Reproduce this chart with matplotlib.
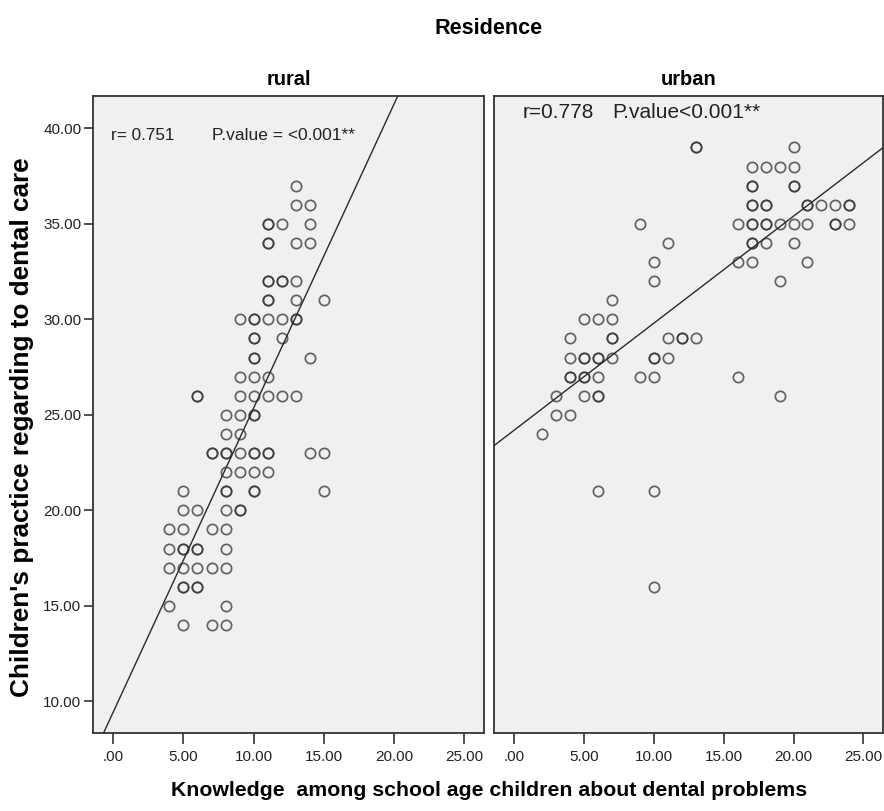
import matplotlib
matplotlib.use("Agg")
import matplotlib.pyplot as plt
import numpy as np

plt.rcParams['font.family'] = ['Liberation Sans', 'DejaVu Sans']

# ---------------- data ----------------
panel_titles = ["rural", "urban"]
super_title = "Residence"
x_label = "Knowledge  among school age children about dental problems"
y_label = "Children's practice regarding to dental care"

xtick_values = [0, 5, 10, 15, 20, 25]
xtick_labels = [".00", "5.00", "10.00", "15.00", "20.00", "25.00"]
ytick_values = [10, 15, 20, 25, 30, 35, 40]
ytick_labels = ["10.00", "15.00", "20.00", "25.00", "30.00", "35.00", "40.00"]

rural_x = [13, 13, 14, 11, 11, 12, 14, 11, 11, 13, 14,
           11, 11, 12, 12, 13, 11, 11, 13, 15,
           9, 10, 10, 11, 12, 13, 13, 10, 10, 12,
           10, 10, 14, 9, 10, 11,
           6, 6, 9, 10, 11, 12, 13,
           8, 9, 10, 10, 8, 9,
           7, 7, 8, 8, 9, 10, 10, 11, 11, 14, 15,
           8, 9, 10, 11, 5, 8, 8, 10, 10, 15,
           5, 6, 8, 9, 9, 4, 5, 7, 8,
           4, 5, 5, 6, 6, 8, 4, 5, 6, 7, 8,
           5, 5, 6, 6, 4, 8, 5, 7, 8]
rural_y = [37, 36, 36, 35, 35, 35, 35, 34, 34, 34, 34,
           32, 32, 32, 32, 32, 31, 31, 31, 31,
           30, 30, 30, 30, 30, 30, 30, 29, 29, 29,
           28, 28, 28, 27, 27, 27,
           26, 26, 26, 26, 26, 26, 26,
           25, 25, 25, 25, 24, 24,
           23, 23, 23, 23, 23, 23, 23, 23, 23, 23, 23,
           22, 22, 22, 22, 21, 21, 21, 21, 21, 21,
           20, 20, 20, 20, 20, 19, 19, 19, 19,
           18, 18, 18, 18, 18, 18, 17, 17, 17, 17, 17,
           16, 16, 16, 16, 15, 15, 14, 14, 14]

urban_x = [13, 13, 20,
           17, 18, 19, 20,
           17, 17, 20, 20,
           17, 17, 18, 18, 21, 21, 22, 23, 24, 24,
           9, 16, 17, 17, 18, 18, 19, 20, 21, 23, 23, 24,
           11, 17, 17, 18, 20,
           10, 16, 17, 21,
           10, 19,
           7,
           5, 6, 7,
           4, 7, 7, 11, 12, 12, 13,
           4, 5, 5, 6, 6, 7, 10, 10, 11,
           4, 4, 5, 5, 6, 9, 10, 16,
           3, 5, 6, 6, 19,
           3, 4,
           2,
           6, 10,
           10]
urban_y = [39, 39, 39,
           38, 38, 38, 38,
           37, 37, 37, 37,
           36, 36, 36, 36, 36, 36, 36, 36, 36, 36,
           35, 35, 35, 35, 35, 35, 35, 35, 35, 35, 35, 35,
           34, 34, 34, 34, 34,
           33, 33, 33, 33,
           32, 32,
           31,
           30, 30, 30,
           29, 29, 29, 29, 29, 29, 29,
           28, 28, 28, 28, 28, 28, 28, 28, 28,
           27, 27, 27, 27, 27, 27, 27, 27,
           26, 26, 26, 26, 26,
           25, 25,
           24,
           21, 21,
           16]

# fit lines (intercept, slope)
rural_fit = (9.45, 1.59)
urban_fit = (24.2, 0.56)

annot_rural_r, annot_rural_p = "r= 0.751", "P.value = <0.001**"
annot_urban_r, annot_urban_p = "r=0.778", "P.value<0.001**"

# ---------------- plot ----------------
W, H = 884, 811
fig = plt.figure(figsize=(W / 100, H / 100), dpi=100)
fig.patch.set_facecolor("white")

def frac_box(x0, x1, ytop, ybot):
    return [x0 / W, 1 - ybot / H, (x1 - x0) / W, (ybot - ytop) / H]

ax_l = fig.add_axes(frac_box(93.3, 484.0, 95.7, 733.0))
ax_r = fig.add_axes(frac_box(494.3, 883.3, 95.7, 733.0))

xlim = (-1.43, 26.43)
ylim = (8.34, 41.71)

panels = [(ax_l, rural_x, rural_y, rural_fit, panel_titles[0]),
          (ax_r, urban_x, urban_y, urban_fit, panel_titles[1])]

for ax, xs, ys, fit, title in panels:
    ax.set_facecolor("#F0F0F0")
    ax.set_xlim(*xlim)
    ax.set_ylim(*ylim)
    ax.plot(xs, ys, linestyle="none", marker="o", markersize=7.4,
            markerfacecolor="none", markeredgecolor="#333333",
            markeredgewidth=1.25, alpha=0.75, zorder=3)
    lx = np.array(xlim)
    ax.plot(lx, fit[0] + fit[1] * lx, color="#2a2a2a", linewidth=1.0, zorder=4)
    for s in ax.spines.values():
        s.set_color("#333333")
        s.set_linewidth(1.3)
    ax.set_xticks(xtick_values)
    ax.set_xticklabels(xtick_labels, fontsize=11, color="#222222")
    ax.tick_params(axis="x", length=8, width=1.2, color="#333333", pad=4.5)
    ax.set_title(title, fontsize=14.4, fontweight="bold", pad=8)

ax_l.set_yticks(ytick_values)
ax_l.set_yticklabels(ytick_labels, fontsize=11, color="#222222")
ax_l.tick_params(axis="y", length=6.5, width=1.2, color="#333333", pad=2)
ax_r.set_yticks([])

def px_text(x, y, s, size, **kw):
    fig.text(x / W, 1 - y / H, s, fontsize=size, **kw)

px_text(110.7, 135, annot_rural_r, 12.3, color="#222222", va="center", ha="left")
px_text(211.7, 135, annot_rural_p, 12.5, color="#222222", va="center", ha="left")
px_text(522.7, 113, annot_urban_r, 15, color="#222222", va="center", ha="left")
px_text(612.7, 113, annot_urban_p, 15, color="#222222", va="center", ha="left")

px_text(488.3, 28, super_title, 15.6, ha="center", va="center", fontweight="bold")
px_text(489, 790, x_label, 15.3, ha="center", va="center", fontweight="bold")
px_text(22, 427, y_label, 18.8, ha="center", va="center", rotation=90,
        fontweight="bold")

fig.savefig("out.png", dpi=100, facecolor="white")
